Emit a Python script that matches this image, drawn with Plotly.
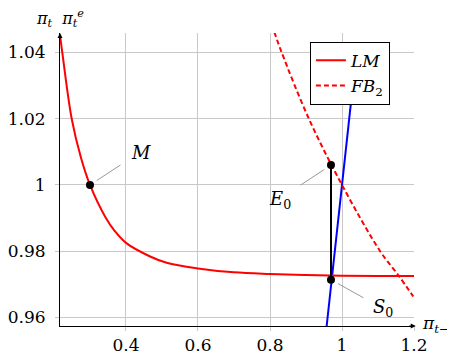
#Python Script for the LM / FB2 phase diagram
import plotly.graph_objects as go

# Curve data
lm_x = [0.2167, 0.2231, 0.2492, 0.275, 0.3, 0.3417, 0.3694, 0.4, 0.467, 0.513, 0.6, 0.7, 0.8, 0.9, 1.0, 1.1, 1.2]
lm_y = [1.0452, 1.04, 1.02, 1.0082, 1.0, 0.9905, 0.986, 0.9825, 0.9784, 0.9765, 0.9748, 0.9736, 0.9731, 0.9728, 0.9726, 0.9725, 0.9725]

fb_x = [0.812, 0.8325, 0.908, 1.0, 1.106, 1.158, 1.198]
fb_y = [1.0462, 1.04, 1.02, 1.0, 0.98, 0.9725, 0.9663]

# 45 degree line
diag_x = [0.955, 1.04]
diag_y = [0.955, 1.04]

# Marked points
m_point = (0.3, 1.0)
e0_point = (0.9694, 1.006)
s0_point = (0.9694, 0.9714)

x_ticks = [0.4, 0.6, 0.8, 1.0, 1.2]
x_tick_labels = ['0.4', '0.6', '0.8', '1', '1.2']
y_ticks = [0.96, 0.98, 1.0, 1.02, 1.04]
y_tick_labels = ['0.96', '0.98', '1', '1.02', '1.04']

FONT = 'DejaVu Serif'


def build_figure():
    fig = go.Figure()

    fig.add_trace(go.Scatter(x=diag_x, y=diag_y, mode='lines', line=dict(color='blue', width=2),
                             showlegend=False))
    fig.add_trace(go.Scatter(x=lm_x, y=lm_y, mode='lines', line=dict(color='red', width=2, shape='spline'),
                             name='<i>LM</i>'))
    fig.add_trace(go.Scatter(x=fb_x, y=fb_y, mode='lines',
                             line=dict(color='red', width=2, dash='5px,3px', shape='spline'),
                             name='<i>FB</i><sub>2</sub>'))

    # vertical segment between E0 and S0
    fig.add_trace(go.Scatter(x=[e0_point[0], s0_point[0]], y=[e0_point[1], s0_point[1]], mode='lines',
                             line=dict(color='black', width=2), showlegend=False))
    fig.add_trace(go.Scatter(x=[m_point[0], e0_point[0], s0_point[0]],
                             y=[m_point[1], e0_point[1], s0_point[1]],
                             mode='markers', marker=dict(color='black', size=8), showlegend=False))

    # labels with small gray pins
    labels = [
        (m_point, '<i>M</i>', 32, -21, 51, 32),
        (e0_point, '<i>E</i><sub>0</sub>', -32, 21, -51, -35),
        (s0_point, '<i>S</i><sub>0</sub>', 34, 19, 52, -28),
    ]
    for (px, py), text, ax, ay, xs, ys in labels:
        fig.add_annotation(x=px, y=py, text='', showarrow=True, arrowhead=0, arrowwidth=1,
                           arrowcolor='#999999', ax=ax, ay=ay, standoff=8)
        fig.add_annotation(x=px, y=py, text=text, showarrow=False, xshift=xs, yshift=ys,
                           font=dict(size=18, family=FONT, color='black'))

    # axis arrows
    fig.add_annotation(xref='paper', yref='paper', x=0, y=1, ax=0, ay=8, text='', showarrow=True,
                       arrowhead=2, arrowsize=1, arrowwidth=1, arrowcolor='black')
    fig.add_annotation(xref='paper', yref='paper', x=1.005, y=0, ax=-8, ay=0, text='', showarrow=True,
                       arrowhead=2, arrowsize=1, arrowwidth=1, arrowcolor='black')

    # axis titles
    fig.add_annotation(xref='paper', yref='paper', x=0, y=1, xanchor='center', yanchor='middle',
                       yshift=15,
                       text='<i>π</i><sub><i>t</i></sub>  <i>π</i><sub><i>t</i></sub><sup><i>e</i></sup>',
                       showarrow=False, font=dict(size=16, family=FONT, color='black'))
    fig.add_annotation(xref='paper', yref='paper', x=1, y=0, xanchor='left', yanchor='middle',
                       xshift=6, yshift=2,
                       text='<i>π</i><sub><i>t</i>−1</sub>', showarrow=False,
                       font=dict(size=17, family=FONT, color='black'))

    axis_style = dict(showgrid=True, gridcolor='#c8c8c8', gridwidth=1, zeroline=False,
                      showline=True, linecolor='black', linewidth=1, automargin=False,
                      ticks='outside', ticklen=4, tickcolor='#c8c8c8',
                      tickfont=dict(size=17, family=FONT, color='black'))

    fig.update_xaxes(range=[0.2167, 1.2], tickvals=x_ticks, ticktext=x_tick_labels, **axis_style)
    fig.update_yaxes(range=[0.9574, 1.0459], tickvals=y_ticks, ticktext=y_tick_labels,
                     ticklabelstandoff=6, **axis_style)

    # the page body adds an 8px offset, so the figure is 8px smaller on each side
    fig.update_layout(
        width=447, height=351,
        margin=dict(l=52, r=41, t=25, b=33),
        plot_bgcolor='white', paper_bgcolor='white',
        legend=dict(x=0.706, y=0.97, xanchor='left', yanchor='top',
                    bordercolor='black', borderwidth=1, bgcolor='white',
                    font=dict(size=17, family=FONT, color='black'), itemwidth=30),
    )
    return fig


def main():
    fig = build_figure()
    fig.write_html("out.html")


if __name__ == "__main__":
    main()
